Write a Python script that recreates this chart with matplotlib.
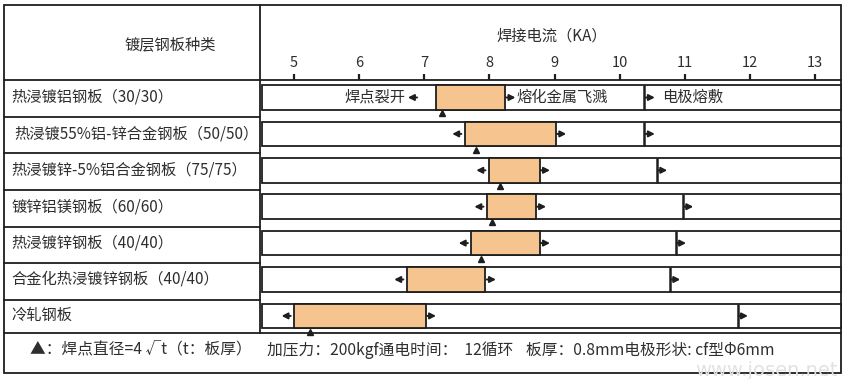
import matplotlib
matplotlib.use("Agg")
import matplotlib.pyplot as plt
import matplotlib.transforms as mtransforms
from matplotlib.patches import Rectangle

plt.rcParams['font.family'] = ['Noto Sans CJK SC', 'DejaVu Sans']

# ---------------- data ----------------
categories = [
    "热浸镀铝钢板（30/30）",
    "热浸镀55%铝-锌合金钢板（50/50）",
    "热浸镀锌-5%铝合金钢板（75/75）",
    "镀锌铝镁钢板（60/60）",
    "热浸镀锌钢板（40/40）",
    "合金化热浸镀锌钢板（40/40）",
    "冷轧钢板",
]
# lower limit of weldable current (nugget cracking), KA
lower = [7.18, 7.62, 7.99, 7.96, 7.72, 6.73, 5.00]
# upper limit of weldable current (expulsion), KA
upper = [8.24, 9.02, 8.77, 8.71, 8.77, 7.94, 7.02]
# electrode sticking current, KA
sticking = [10.38, 10.38, 10.57, 10.97, 10.86, 10.77, 11.81]
# current giving nugget diameter 4√t (None = not marked)
nugget = [7.28, 7.79, 8.17, 8.04, 7.87, None, 5.25]
xticks = [5, 6, 7, 8, 9, 10, 11, 12, 13]
notes = ["焊点裂开", "熔化金属飞溅", "电极熔敷"]
header_left = "镀层钢板种类"
axis_title = "焊接电流（KA）"
footer = ["▲：焊点直径=4 √t（t：板厚）", "加压力：200kgf通电时间：  12循环",
          "板厚：0.8mm电极形状: cf型Φ6mm"]

# ---------------- figure ----------------
W, H = 846, 379
fig = plt.figure(figsize=(W / 100, H / 100), dpi=100)
frame = fig.add_axes([0, 0, 1, 1])
frame.set_xlim(0, W)
frame.set_ylim(H, 0)
frame.axis('off')

LC = '#1e1e1e'
TC = '#2e2e2e'
ORANGE = '#F5C48F'
FS = 11

ax_left, ax_right, ax_top, ax_bot = 262, 841, 80, 333
ax = fig.add_axes([ax_left / W, 1 - ax_bot / H, (ax_right - ax_left) / W,
                   (ax_bot - ax_top) / H])
ppk = 65.125
x0 = 5 - (294 - ax_left) / ppk
x1 = 5 + (ax_right - 294) / ppk
ax.set_xlim(x0, x1)
rowpx = 36.4
ax.set_ylim((ax_bot - 97.5) / rowpx, -(97.5 - ax_top) / rowpx)
ax.patch.set_alpha(0)
for s in ax.spines.values():
    s.set_visible(False)
ax.xaxis.tick_top()
ax.set_xticks(xticks)
ax.set_xticklabels([str(t) for t in xticks])
ax.tick_params(axis='x', direction='out', length=4.5, width=1.6, color=LC,
               pad=3, labelsize=10.5, labelcolor=TC)
ax.set_yticks([])
ax.xaxis.set_label_position('top')
ax.set_xlabel(axis_title, fontsize=FS, color=TC, labelpad=11)

# ---------------- table frame ----------------
lw = 1.3
frame.add_patch(Rectangle((4, 5), 837, 368, fill=False, ec=LC, lw=lw, zorder=5))
frame.plot([4, 841], [80, 80], color=LC, lw=lw)
frame.plot([4, 841], [333, 333], color=LC, lw=lw)
frame.plot([260, 260], [5, 333], color=LC, lw=lw)
for yy in [117, 153, 190, 227, 263, 300]:
    frame.plot([4, 260], [yy, yy], color=LC, lw=lw)

frame.text(170, 45, header_left, ha='center', va='center', fontsize=FS, color=TC)

# ---------------- rows ----------------
bh = 0.68
span = x1 - x0
trans = mtransforms.blended_transform_factory(frame.transData, ax.transData)
arrow_kw = dict(arrowstyle='-|>,head_length=0.35,head_width=0.18', color=LC,
                lw=1.4, shrinkA=0, shrinkB=0)
for i, name in enumerate(categories):
    ax.barh(i, span, left=x0, height=bh, color='white', edgecolor=LC, lw=lw,
            clip_on=False, zorder=1)
    ax.barh(i, upper[i] - lower[i], left=lower[i], height=bh, color=ORANGE,
            edgecolor=LC, lw=lw, zorder=2)
    ax.vlines(sticking[i], i - bh / 2, i + bh / 2, color=LC, lw=1.8, zorder=3)
    if nugget[i] is not None:
        ax.plot(nugget[i], i + bh / 2 + 0.09, marker='^', ms=5, color=LC,
                mec=LC, zorder=4, clip_on=False)
    # arrows
    if i == 0:
        ax.annotate('', xy=(lower[i] - 0.43, i), xytext=(lower[i] - 0.29, i),
                    arrowprops=arrow_kw)
        ax.text(lower[i] - 0.47, i, notes[0], ha='right', va='center',
                fontsize=FS, color=TC)
        ax.text(upper[i] + 0.18, i, notes[1], ha='left', va='center',
                fontsize=FS, color=TC)
        ax.text(sticking[i] + 0.27, i, notes[2], ha='left', va='center',
                fontsize=FS, color=TC)
    else:
        ax.annotate('', xy=(lower[i] - 0.19, i), xytext=(lower[i] - 0.05, i),
                    arrowprops=arrow_kw)
    ax.annotate('', xy=(upper[i] + 0.16, i), xytext=(upper[i] + 0.02, i),
                arrowprops=arrow_kw)
    ax.annotate('', xy=(sticking[i] + 0.16, i), xytext=(sticking[i] + 0.02, i),
                arrowprops=arrow_kw)
    lx = 14 if i == 1 else 11
    ax.text(lx, i, name, transform=trans, ha='left', va='center',
            fontsize=FS, color=TC)

# ---------------- footer ----------------
for x, t in zip([30, 267, 526], footer):
    frame.text(x, 350, t, ha='left', va='center', fontsize=11.3, color=TC)

frame.text(838, 370, "www.josen.net", ha='right', va='center', fontsize=14,
           color='#e2e2e2', family='DejaVu Sans', zorder=6)

fig.savefig('out.png', dpi=100)
